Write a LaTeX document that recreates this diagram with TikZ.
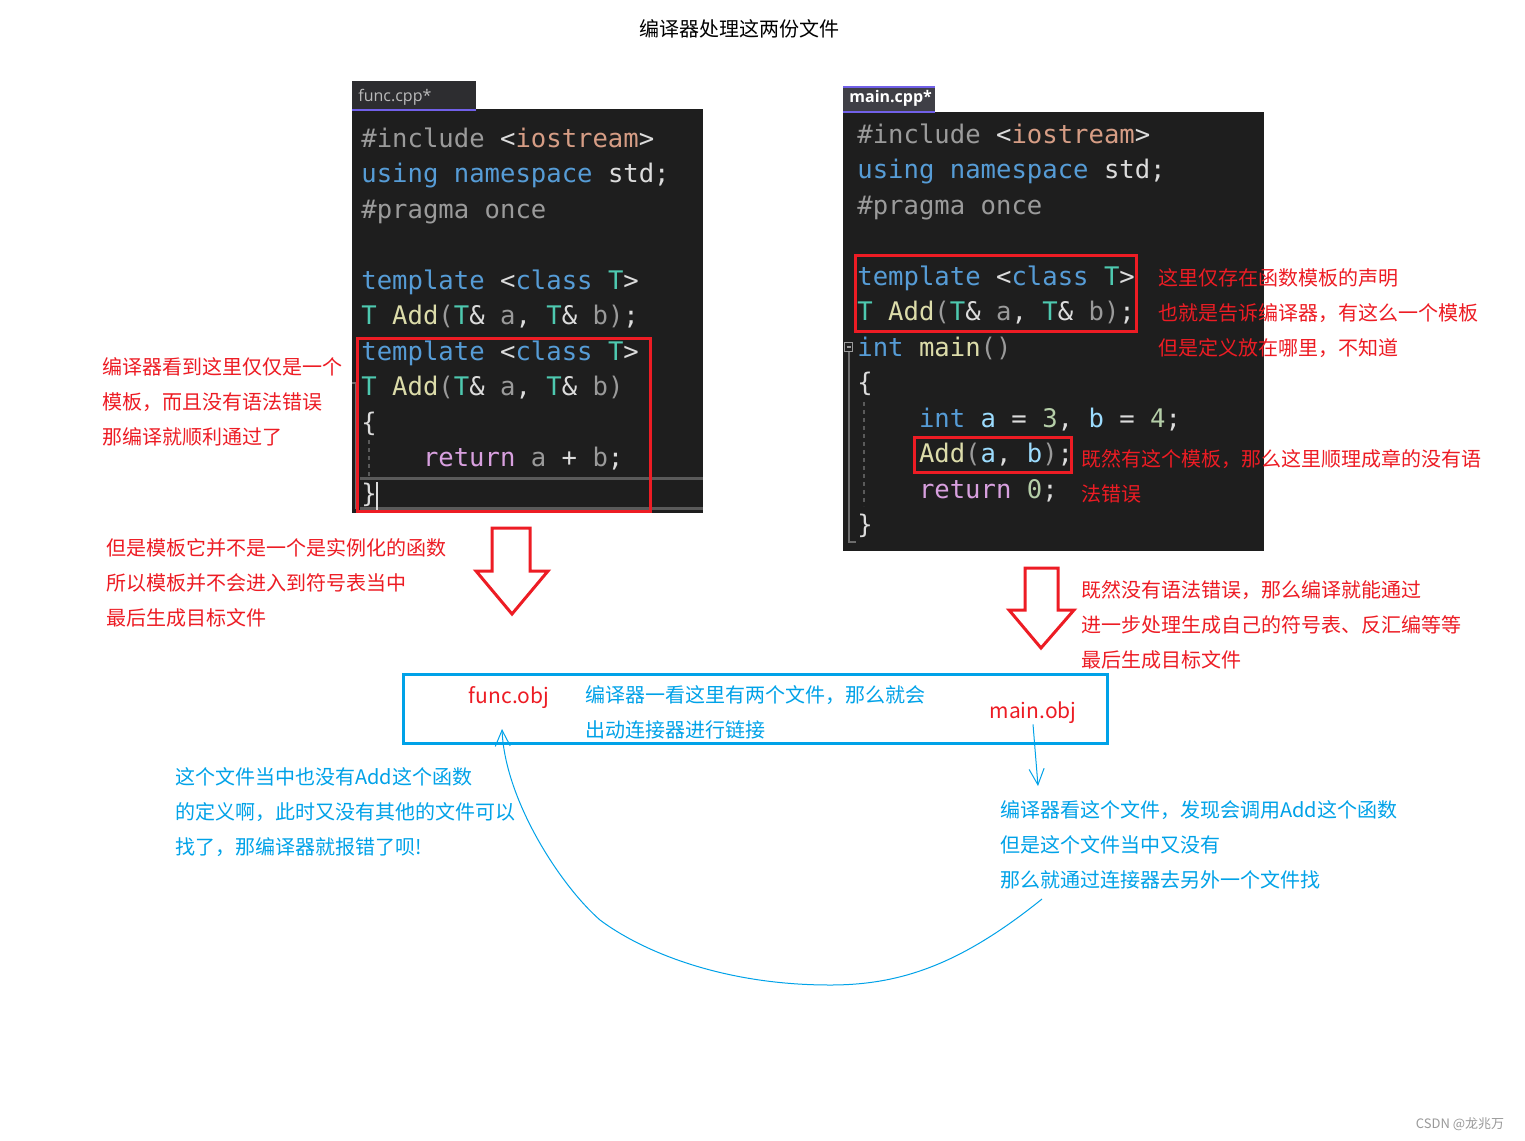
\documentclass[tikz,border=0pt]{standalone}
\usepackage{fontspec}
\setmainfont{Noto Sans CJK SC}
\setmonofont{DejaVu Sans Mono}
\newfontfamily\tabfont{Open Sans}
\usetikzlibrary{arrows.meta, positioning, calc}

\definecolor{codebg}{HTML}{1E1E1E}
\definecolor{tabbg}{HTML}{2D2D30}
\definecolor{tabsel}{HTML}{3F3F46}
\definecolor{tabline}{HTML}{7160E8}
\definecolor{kwblue}{HTML}{569CD6}
\definecolor{tyteal}{HTML}{4EC9B0}
\definecolor{fnyel}{HTML}{DCDCAA}
\definecolor{ppgray}{HTML}{9B9B9B}
\definecolor{strorg}{HTML}{D69D85}
\definecolor{plaintxt}{HTML}{DCDCDC}
\definecolor{pargray}{HTML}{9A9A9A}
\definecolor{varblue}{HTML}{9CDCFE}
\definecolor{numgreen}{HTML}{B5CEA8}
\definecolor{retpink}{HTML}{D8A0DF}
\definecolor{guide}{HTML}{5A5A5A}
\definecolor{notered}{RGB}{237,28,36}
\definecolor{noteblue}{RGB}{0,162,232}

\newcommand{\ckw}[1]{\textcolor{kwblue}{#1}}
\newcommand{\cty}[1]{\textcolor{tyteal}{#1}}
\newcommand{\cfn}[1]{\textcolor{fnyel}{#1}}
\newcommand{\cpp}[1]{\textcolor{ppgray}{#1}}
\newcommand{\cstr}[1]{\textcolor{strorg}{#1}}
\newcommand{\cpar}[1]{\textcolor{pargray}{#1}}
\newcommand{\cvar}[1]{\textcolor{varblue}{#1}}
\newcommand{\cnum}[1]{\textcolor{numgreen}{#1}}
\newcommand{\cret}[1]{\textcolor{retpink}{#1}}

\begin{document}
\begin{tikzpicture}[
    x=0.5pt, y=-0.5pt,
    codeline/.style={anchor=base west, inner sep=0pt, text=plaintxt, font=\ttfamily\fontsize{12.8}{15}\selectfont},
    note/.style={anchor=west, inner sep=0pt, align=left, text=notered, font=\fontsize{10}{17.5}\selectfont},
    bnote/.style={note, text=noteblue},
    objlabel/.style={inner sep=0pt, text=notered, font=\fontsize{10.5}{12}\selectfont},
    redbox/.style={draw=notered, line width=1.5pt},
    hollow/.style={draw=notered, line width=1.5pt, fill=white, line join=miter},
    sketch/.style={draw=noteblue, line width=0.5pt, -{Straight Barb[length=8pt, width=7.5pt]}},
    guideline/.style={draw=guide, line width=0.7pt, dash pattern=on 2pt off 2pt}
]
\useasboundingbox (0,0) rectangle (1525,1140);
\fill[white] (0,0) rectangle (1525,1140);

% Title
\node[font=\fontsize{10}{12}\selectfont] (title) at (739,29) {编译器处理这两份文件};

% func.cpp panel
\fill[tabbg] (352,81) rectangle (476,109);
\fill[codebg] (352,109) rectangle (703,513);
\draw[tabline, line width=1pt] (352,109.5) -- (476,109.5);
\node[anchor=west, inner sep=0pt, text=plaintxt!85!black, font=\tabfont\fontsize{8}{10}\selectfont] (ftab) at (358,97) {func.cpp*};
\draw[guide, line width=1.5pt] (360,478) -- (703,478) (360,508) -- (703,508);
\draw[ppgray!70!black, line width=1pt] (352,383) -- (358,383) (356,383) -- (356,509);
\draw[guideline] (369,440) -- (369,476);

\node[codeline] (fl1) at (361,147) {\cpp{\#include} \textcolor{plaintxt}{<}\cstr{iostream}\textcolor{plaintxt}{>}};
\node[codeline] (fl2) at (361,182.5) {\ckw{using namespace} std;};
\node[codeline] (fl3) at (361,218) {\cpp{\#pragma once}};
\node[codeline] (fl5) at (361,289) {\ckw{template} <\ckw{class} \cty{T}>};
\node[codeline] (fl6) at (361,324.5) {\cty{T} \cfn{Add}\cpar{(}\cty{T}\& \cpar{a}, \cty{T}\& \cpar{b}\cpar{)};};
\node[codeline] (fl7) at (361,360) {\ckw{template} <\ckw{class} \cty{T}>};
\node[codeline] (fl8) at (361,395.5) {\cty{T} \cfn{Add}\cpar{(}\cty{T}\& \cpar{a}, \cty{T}\& \cpar{b}\cpar{)}};
\node[codeline] (fl9) at (361,431) {\{};
\node[codeline] (fl10) at (422.6,466.5) {\cret{return} \cpar{a} + \cpar{b};};
\node[codeline] (fl11) at (361,502) {\}};
\draw[plaintxt, line width=0.6pt] (377,482) -- (377,510);

% main.cpp panel
\fill[tabsel] (843,86) rectangle (935,112);
\fill[codebg] (843,112) rectangle (1264,551);
\draw[tabline, line width=1pt] (843,86.5) -- (935,86.5) (843,111.5) -- (935,111.5);
\node[anchor=west, inner sep=0pt, text=white, font=\tabfont\bfseries\fontsize{8}{10}\selectfont] (mtab) at (849,98.5) {main.cpp*};
\draw[ppgray, line width=0.6pt] (844.5,342.5) rectangle (852.5,351.5) (846.5,347) -- (850.5,347);
\draw[ppgray!70!black, line width=0.8pt] (849,352) -- (849,542) -- (856,542);
\draw[guideline] (864,402) -- (864,506);

\node[codeline] (ml1) at (857,143) {\cpp{\#include} \textcolor{plaintxt}{<}\cstr{iostream}\textcolor{plaintxt}{>}};
\node[codeline] (ml2) at (857,178.5) {\ckw{using namespace} std;};
\node[codeline] (ml3) at (857,214) {\cpp{\#pragma once}};
\node[codeline] (ml5) at (857,285) {\ckw{template} <\ckw{class} \cty{T}>};
\node[codeline] (ml6) at (857,320.5) {\cty{T} \cfn{Add}\cpar{(}\cty{T}\& \cpar{a}, \cty{T}\& \cpar{b}\cpar{)};};
\node[codeline] (ml7) at (857,356) {\ckw{int} \cfn{main}\cpar{()}};
\node[codeline] (ml8) at (857,391.5) {\{};
\node[codeline] (ml9) at (918.6,427) {\ckw{int} \cvar{a} = \cnum{3}, \cvar{b} = \cnum{4};};
\node[codeline] (ml10) at (918.6,462.5) {\cfn{Add}\cpar{(}\cvar{a}, \cvar{b}\cpar{)};};
\node[codeline] (ml11) at (918.6,498) {\cret{return} \cnum{0};};
\node[codeline] (ml12) at (857,533.5) {\}};

% red boxes
\draw[redbox] (357,338) rectangle (650,511);
\draw[redbox] (855,255) rectangle (1136,331);
\draw[redbox] (914,437) rectangle (1071,472);

% red notes
\node[note] (fnote) at (102,402) {编译器看到这里仅仅是一个\\模板，而且没有语法错误\\那编译就顺利通过了};
\node[note] (tnote) at (106,583) {但是模板它并不是一个是实例化的函数\\所以模板并不会进入到符号表当中\\最后生成目标文件};
\node[note] (dnote) at (1158,313) {这里仅存在函数模板的声明\\也就是告诉编译器，有这么一个模板\\但是定义放在哪里，不知道};
\node[note] (cnote) at (1081,476.5) {既然有这个模板，那么这里顺理成章的没有语\\法错误};
\node[note] (mnote) at (1081,625) {既然没有语法错误，那么编译就能通过\\进一步处理生成自己的符号表、反汇编等等\\最后生成目标文件};

% hollow arrows
\draw[hollow] (492,528) -- (530,528) -- (530,571) -- (548,571) -- (512,614) -- (476,571) -- (492,571) -- cycle;
\draw[hollow] (1025,568) -- (1058,568) -- (1058,610) -- (1074,610) -- (1041,648) -- (1009,610) -- (1025,610) -- cycle;

% link box
\draw[noteblue, line width=1.5pt] (403,674) rectangle (1107,743);
\node[objlabel] (fobj) at (509,698) {func.obj};
\node[objlabel] (mobj) at (1033,713) {main.obj};
\node[bnote] (lnote) at (585,712.5) {编译器一看这里有两个文件，那么就会\\出动连接器进行链接};

% blue notes
\node[bnote] (enote) at (175,812) {这个文件当中也没有Add这个函数\\的定义啊，此时又没有其他的文件可以\\找了，那编译器就报错了呗!};
\node[bnote] (rnote) at (1000,845) {编译器看这个文件，发现会调用Add这个函数\\但是这个文件当中又没有\\那么就通过连接器去另外一个文件找};

% hand drawn arrows
\coordinate (mtip) at (1038,786);
\coordinate (cstart) at (1042,899);
\coordinate (ftip) at (502,729);
\draw[sketch] (mobj.south) -- (mtip);
\draw[sketch] (cstart) .. controls (960,965) and (900,985) .. (830,985)
    .. controls (720,985) and (640,950) .. (600,920)
    .. controls (560,885) and (505,800) .. (ftip);

% watermark
\node[text=black!40, font=\fontsize{6.5}{8}\selectfont] (wm) at (1460,1124) {CSDN @龙兆万};
\end{tikzpicture}
\end{document}
